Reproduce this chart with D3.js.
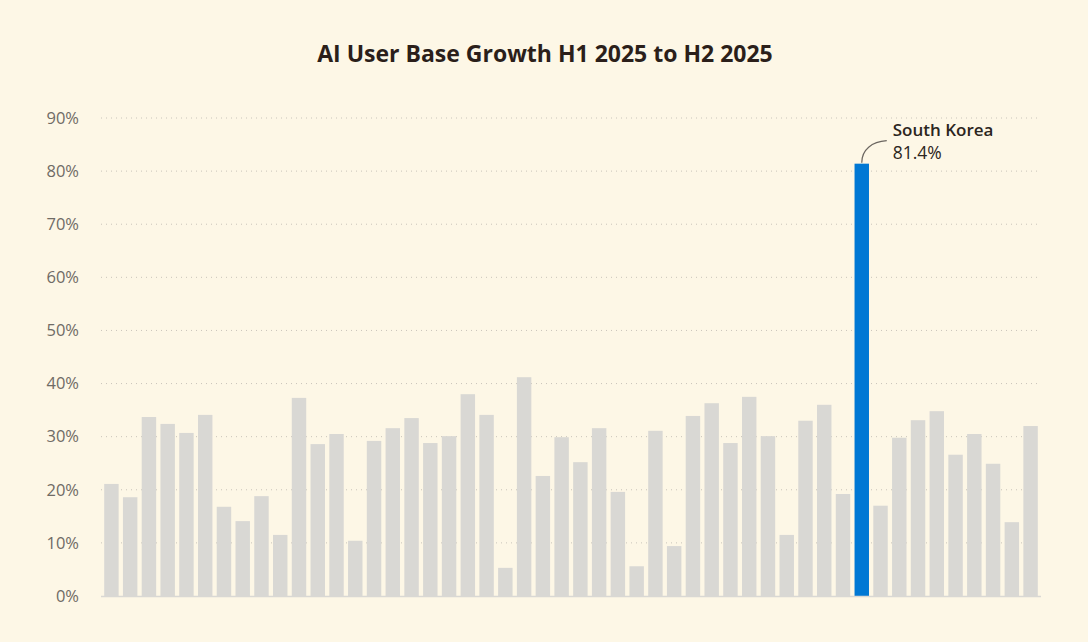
<!DOCTYPE html>
<html>
<head>
<meta charset="utf-8">
<script src="https://cdn.jsdelivr.net/npm/d3@7"></script>
<style>
  html, body { margin: 0; padding: 0; background: #fdf7e6; }
  svg { display: block; }
</style>
</head>
<body>
<div id="chart"></div>
<script>
// bar values, % growth per country (left to right)
var growth = [21.1, 18.6, 33.7, 32.4, 30.7, 34.1, 16.8, 14.1, 18.8, 11.5,
              37.3, 28.6, 30.5, 10.4, 29.2, 31.6, 33.5, 28.8, 30.1, 38.0,
              34.1, 5.3, 41.2, 22.6, 29.9, 25.2, 31.6, 19.6, 5.6, 31.1,
              9.4, 33.9, 36.3, 28.8, 37.5, 30.1, 11.5, 33.0, 36.0, 19.2,
              81.4, 17.0, 29.8, 33.1, 34.8, 26.6, 30.5, 24.9, 13.9, 32.0];
var highlightIndex = 40;
var highlightName = "South Korea";
var yTicks = [0, 10, 20, 30, 40, 50, 60, 70, 80, 90];

var width = 1088, height = 642;
var margin = {top: 118, right: 47, bottom: 46, left: 101};
var font = "'Open Sans', 'Noto Sans', sans-serif";

var svg = d3.select("#chart")
  .append("svg")
    .attr("width", width)
    .attr("height", height);

svg.append("rect")
  .attr("width", width)
  .attr("height", height)
  .attr("fill", "#fdf7e6");

// title
svg.append("text")
  .attr("x", 545)
  .attr("y", 62)
  .attr("text-anchor", "middle")
  .style("font-family", font)
  .style("font-weight", "700")
  .style("font-size", "23px")
  .style("fill", "#2b1f1a")
  .text("AI User Base Growth H1 2025 to H2 2025");

var x = d3.scaleBand()
  .domain(d3.range(growth.length))
  .range([margin.left, width - margin.right])
  .paddingInner(0.23)
  .paddingOuter(0.17);

var y = d3.scaleLinear()
  .domain([0, 90])
  .range([height - margin.bottom, margin.top]);

// dotted gridlines
svg.append("g")
  .selectAll("line")
  .data(yTicks.filter(function(d){ return d > 0; }))
  .enter()
  .append("line")
    .attr("x1", margin.left)
    .attr("x2", width - margin.right)
    .attr("y1", function(d){ return y(d); })
    .attr("y2", function(d){ return y(d); })
    .attr("stroke", "#c9c4ba")
    .attr("stroke-width", 1)
    .attr("stroke-dasharray", "1,4");

// y axis labels
var yAxis = d3.axisLeft(y)
  .tickValues(yTicks)
  .tickFormat(function(d){ return d + "%"; })
  .tickSize(0)
  .tickPadding(22);

svg.append("g")
  .attr("transform", "translate(" + margin.left + ",0)")
  .call(yAxis)
  .call(function(g){ g.select(".domain").remove(); })
  .selectAll("text")
    .style("font-family", font)
    .style("font-size", "16.5px")
    .style("fill", "#6f6b65");

// bars
svg.append("g")
  .selectAll("rect")
  .data(growth)
  .enter()
  .append("rect")
    .attr("x", function(d, i){ return x(i); })
    .attr("y", function(d){ return y(d); })
    .attr("width", x.bandwidth())
    .attr("height", function(d){ return y(0) - y(d); })
    .attr("fill", function(d, i){ return i === highlightIndex ? "#0078d4" : "#d9d8d4"; });

// baseline
svg.append("line")
  .attr("x1", margin.left)
  .attr("x2", width - margin.right)
  .attr("y1", y(0) + 0.5)
  .attr("y2", y(0) + 0.5)
  .attr("stroke", "#d9d8d4")
  .attr("stroke-width", 1.5);

// annotation for the highlighted bar
var hx = x(highlightIndex) + x.bandwidth() / 2;
var hy = y(growth[highlightIndex]);
var lx = hx + 31;

svg.append("path")
  .attr("d", "M" + hx + "," + (hy - 1) + " C" + hx + "," + (hy - 14) + " " + (hx + 10) + "," + (hy - 22) + " " + (hx + 25) + "," + (hy - 23))
  .attr("fill", "none")
  .attr("stroke", "#6b6660")
  .attr("stroke-width", 1.2);

svg.append("text")
  .attr("x", lx)
  .attr("y", hy - 28)
  .style("font-family", font)
  .style("font-weight", "600")
  .style("font-size", "17px")
  .style("fill", "#2b2520")
  .text(highlightName);

svg.append("text")
  .attr("x", lx)
  .attr("y", hy - 5)
  .style("font-family", font)
  .style("font-size", "17.5px")
  .style("fill", "#2b2520")
  .text(d3.format(".1f")(growth[highlightIndex]) + "%");
</script>
</body>
</html>
